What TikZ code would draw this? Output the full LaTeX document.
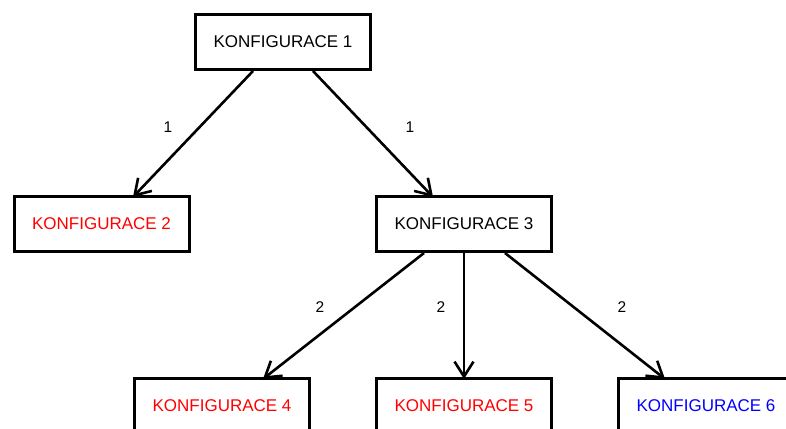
\documentclass[tikz,border=0pt]{standalone}
\usepackage{fontspec}
\setmainfont{Liberation Sans}
\usetikzlibrary{arrows.meta}
\begin{document}
\begin{tikzpicture}[x=1pt,y=-1pt,
  conf/.style={draw,line width=3pt,rectangle,minimum width=175pt,minimum height=55pt,
    inner sep=0pt,font=\fontsize{17}{20}\selectfont},
  link/.style={line width=2.6pt,-{Straight Barb[length=15pt,width=19pt,line width=2.6pt]}},
  lbl/.style={font=\fontsize{15.5}{18}\selectfont}]
\useasboundingbox (0,0) rectangle (786,428);
\clip (0,0) rectangle (786,428);
\fill[white] (0,0) rectangle (786,428);

\node[conf] (k1) at (283,42) {KONFIGURACE 1};
\node[conf,text=red] (k2) at (101.5,224) {KONFIGURACE 2};
\node[conf] (k3) at (464,224) {KONFIGURACE 3};
\node[conf,text=red] (k4) at (222,406) {KONFIGURACE 4};
\node[conf,text=red] (k5) at (464,406) {KONFIGURACE 5};
\node[conf,text=blue] (k6) at (706,406) {KONFIGURACE 6};

\draw[link] ([xshift=-30pt]k1.south) -- ([xshift=31.5pt,yshift=-2pt]k2.north);
\draw[link] ([xshift=30pt]k1.south) -- ([xshift=-31pt,yshift=-2pt]k3.north);
\draw[link] ([xshift=-40pt]k3.south) -- ([xshift=41pt,yshift=-2pt]k4.north);
\draw[link] (k3.south) -- ([yshift=-2pt]k5.north);
\draw[link] ([xshift=41pt]k3.south) -- ([xshift=-41pt,yshift=-2pt]k6.north);

\node[lbl] (l1) at (168,127) {1};
\node[lbl] (l2) at (410,127) {1};
\node[lbl] (l3) at (320,307) {2};
\node[lbl] (l4) at (441,307) {2};
\node[lbl] (l5) at (622,307) {2};
\end{tikzpicture}
\end{document}
